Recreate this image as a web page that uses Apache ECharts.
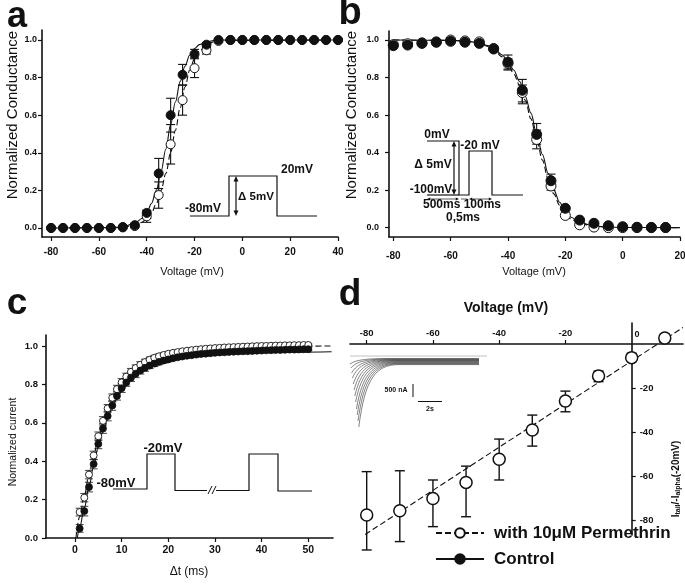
<!DOCTYPE html>
<html>
<head>
<meta charset="utf-8">
<script src="https://cdn.jsdelivr.net/npm/echarts@6/dist/echarts.min.js"></script>
<style>
  html, body { margin: 0; padding: 0; background: #fff; }
  #chart { width: 685px; height: 584px; }
</style>
</head>
<body>
<div id="chart"></div>
<script>
// ---- panel a : activation ----
const aVolt = [-80,-75,-70,-65,-60,-55,-50,-45,-40,-35,-30,-25,-20,-15,-10,-5,0,5,10,15,20,25,30,35,40];
const aCtrl = [0,0,0,0,0,0,0.005,0.015,0.08,0.29,0.60,0.815,0.925,0.975,1,1,1,1,1,1,1,1,1,1,1];
const aPerm = [0,0,0,0,0,0,0.003,0.01,0.062,0.175,0.445,0.68,0.85,0.945,0.995,1,1,1,1,1,1,1,1,1,1];
const aCtrlErr = [[-45,0.005,0.025],[-40,0.05,0.095],[-35,0.21,0.37],[-30,0.51,0.69],[-25,0.76,0.87],[-20,0.905,0.95],[-15,0.96,0.985]];
const aPermErr = [[-40,0.03,0.09],[-35,0.105,0.245],[-30,0.34,0.55],[-25,0.6,0.76],[-20,0.8,0.9],[-15,0.925,0.965]];
const aFitV = [-80,-55,-50,-45,-42,-40,-38,-36,-34,-32,-30,-28,-26,-24,-22,-20,-18,-15,-12,-10,40];
const aFitCtrl = [0,0.002,0.006,0.025,0.05,0.08,0.13,0.2,0.3,0.42,0.55,0.67,0.78,0.86,0.92,0.955,0.975,0.99,0.997,1,1];
const aFitPerm = [0,0.001,0.003,0.015,0.03,0.05,0.08,0.13,0.2,0.29,0.4,0.52,0.64,0.75,0.84,0.9,0.94,0.975,0.99,0.997,1];

// ---- panel b : inactivation ----
const bVolt = [-80,-75,-70,-65,-60,-55,-50,-45,-40,-35,-30,-25,-20,-15,-10,-5,0,5,10,15];
const bCtrl = [0.97,0.973,0.982,0.988,0.993,0.988,0.982,0.952,0.881,0.732,0.497,0.25,0.103,0.04,0.023,0.01,0.005,0.002,0.001,0.001];
const bPerm = [0.975,0.98,0.985,0.99,1.0,0.995,0.99,0.955,0.875,0.72,0.47,0.222,0.065,0.015,0.003,0,0,0,0,0];
const bCtrlErr = [[-45,0.94,0.97],[-40,0.845,0.92],[-35,0.67,0.79],[-30,0.445,0.555],[-25,0.22,0.285],[-20,0.09,0.11]];
const bPermErr = [[-40,0.84,0.9],[-35,0.66,0.76],[-30,0.42,0.52],[-25,0.2,0.25]];
const bFitV = [-80,-60,-55,-50,-47,-45,-42,-40,-38,-36,-34,-32,-30,-28,-26,-24,-22,-20,-18,-15,-10,-5,0,20];
const bFitCtrl = [1,0.998,0.995,0.985,0.97,0.955,0.92,0.885,0.84,0.78,0.7,0.61,0.5,0.39,0.29,0.2,0.135,0.085,0.055,0.028,0.009,0.003,0.001,0];
const bFitPerm = [1,0.998,0.995,0.983,0.965,0.95,0.91,0.87,0.82,0.76,0.68,0.58,0.47,0.36,0.26,0.18,0.12,0.075,0.045,0.022,0.007,0.002,0.001,0];

// ---- panel c : recovery ----
const cTime = [1,2,3,4,5,6,7,8,9,10,11,12,13,14,15,16,17,18,19,20,21,22,23,24,25,
  26,27,28,29,30,31,32,33,34,35,36,37,38,39,40,41,42,43,44,45,46,47,48,49,50];
const cCtrl = [0.05,0.14,0.265,0.385,0.49,0.57,0.635,0.69,0.74,0.78,
  0.81,0.835,0.855,0.872,0.886,0.898,0.908,0.917,0.924,0.93,
  0.936,0.941,0.945,0.949,0.952,0.955,0.958,0.96,0.962,0.964,
  0.966,0.967,0.969,0.97,0.971,0.972,0.973,0.974,0.975,0.976,
  0.977,0.978,0.979,0.979,0.98,0.981,0.981,0.982,0.983,0.983];
const cPerm = [0.135,0.21,0.33,0.43,0.53,0.61,0.675,0.73,0.775,0.81,
  0.84,0.865,0.885,0.902,0.916,0.928,0.938,0.946,0.953,0.959,
  0.964,0.968,0.972,0.975,0.978,0.981,0.983,0.985,0.987,0.989,
  0.99,0.992,0.993,0.994,0.995,0.996,0.997,0.998,0.999,1.0,
  1.0,1.001,1.002,1.002,1.003,1.003,1.004,1.004,1.005,1.005];
const cCtrlErr = [0.02,0.025,0.025,0.025,0.025,0.025,0.025,0.025,0.022,0.022,
  0.02,0.02,0.02,0.018,0.018,0.016,0.015,0.015,0.013,0.012,
  0.012,0.011,0.01,0.01,0.01,0.009,0.009,0.008,0.008,0.008,
  0.007,0.007,0.007,0.007,0.007,0.007,0.007,0.007,0.007,0.007,
  0.007,0.007,0.007,0.007,0.007,0.007,0.007,0.007,0.007,0.007];
const cPermErr = [0.02,0.022,0.022,0.022,0.022,0.022,0.02,0.02,0.02,0.02,
  0.018,0.018,0.016,0.016,0.015,0.014,0.013,0.012,0.011,0.01,
  0.01,0.009,0.009,0.008,0.008,0.008,0.007,0.007,0.007,0.007,
  0.006,0.006,0.006,0.006,0.006,0.006,0.006,0.006,0.006,0.006,
  0.006,0.006,0.006,0.006,0.006,0.006,0.006,0.006,0.006,0.006];
const cFitCtrlT = [0.5,1,2,3,4,5,6,7,8,9,10,12,14,16,18,20,25,30,40,55];
const cFitCtrl = [0,0.055,0.155,0.265,0.375,0.475,0.555,0.625,0.68,0.725,0.765,0.825,0.865,0.893,0.913,0.927,0.948,0.958,0.966,0.97];
const cFitPermT = [0.2,1,2,3,4,5,6,7,8,9,10,12,14,16,18,20,25,30,40,55];
const cFitPerm = [0,0.11,0.22,0.33,0.43,0.52,0.6,0.665,0.72,0.765,0.805,0.86,0.9,0.928,0.947,0.96,0.98,0.99,0.997,1.0];

// ---- panel d : reversal ----
const dVolt = [-80,-70,-60,-50,-40,-30,-20,-10,0,10];
const dPerm = [-77.7,-75.8,-70.2,-62.9,-52.4,-39.1,-25.9,-14.5,-6.2,2.7];
const dLow  = [-93.6,-89.8,-83,-78.5,-61.8,-46.4,-30.8,-17.1,-7.7,1];
const dHigh = [-58,-57.6,-61.8,-55.5,-43.2,-32.3,-21.4,-12.3,-4.2,4.5];
const dLineV = [-85,15.5];
const dLineI = [-91,7.5];
// inset current traces (peak / steady level, px inside inset)
const tracePeaks = [364,368,373,378,384,390,396,402,409,415,421,427];
const traceLevels = [358.5,359,359.5,360,360.5,361,361.6,362.2,362.8,363.4,364,364.6];

const permName = 'with 10\u03bcM Permethrin';
const ctrlName = 'Control';

const FF = "'Liberation Sans', Arial, Helvetica, sans-serif";
const INK = '#111';

const zip = (xs, ys) => xs.map((x, i) => [x, ys[i]]);

function axis(gi, min, max, ticks, position, fmt, size, margin, offset) {
  return {
    type: 'value', gridIndex: gi, min: min, max: max, position: position, offset: offset || 0,
    axisLine: { onZero: false, lineStyle: { color: INK, width: 1.6 } },
    axisTick: { show: true, customValues: ticks, length: 4, lineStyle: { color: INK, width: 1.2 } },
    axisLabel: { customValues: ticks, formatter: fmt, fontSize: size, fontWeight: 'bold',
      fontFamily: FF, color: INK, margin: margin },
    splitLine: { show: false }
  };
}

function fit(gi, data, dashed) {
  return {
    type: 'line', xAxisIndex: gi, yAxisIndex: gi, data: data, smooth: 0.35, smoothMonotone: 'x',
    showSymbol: false, silent: true, z: 2,
    lineStyle: { color: INK, width: 1.1, type: dashed ? [6, 3] : 'solid' }
  };
}

function errBars(gi, data, cap, width) {
  return {
    type: 'custom', xAxisIndex: gi, yAxisIndex: gi, data: data, z: 3, silent: true, clip: false,
    renderItem: function (params, api) {
      const lo = api.coord([api.value(0), api.value(1)]);
      const hi = api.coord([api.value(0), api.value(2)]);
      const st = { stroke: INK, lineWidth: width };
      return { type: 'group', children: [
        { type: 'line', shape: { x1: lo[0], y1: lo[1], x2: hi[0], y2: hi[1] }, style: st },
        { type: 'line', shape: { x1: lo[0] - cap, y1: lo[1], x2: lo[0] + cap, y2: lo[1] }, style: st },
        { type: 'line', shape: { x1: hi[0] - cap, y1: hi[1], x2: hi[0] + cap, y2: hi[1] }, style: st }
      ] };
    }
  };
}

function dots(gi, data, filled, size, bw) {
  return {
    type: 'scatter', xAxisIndex: gi, yAxisIndex: gi, data: data, symbol: 'circle', symbolSize: size,
    silent: true, z: filled ? 5 : 4,
    itemStyle: { color: filled ? INK : '#fff', borderColor: INK, borderWidth: bw, opacity: 1 }
  };
}

// ---- graphic helpers for text and the protocol insets ----
function txt(x, y, s, size, weight, align, rot) {
  return { type: 'text', x: x, y: y, rotation: rot || 0, silent: true,
    style: { text: s, fontSize: size, fontWeight: weight || 'normal', fontFamily: FF, fill: INK,
      align: align || 'center', verticalAlign: 'middle' } };
}
function pl(points, w, color) {
  return { type: 'polyline', silent: true, shape: { points: points },
    style: { stroke: color || INK, lineWidth: w || 1.2, fill: null } };
}
function head(x, y, dir, s) {
  s = s || 3.5;
  let pts;
  if (dir === 'up') pts = [[x, y], [x - s * 0.7, y + s * 1.6], [x + s * 0.7, y + s * 1.6]];
  else if (dir === 'down') pts = [[x, y], [x - s * 0.7, y - s * 1.6], [x + s * 0.7, y - s * 1.6]];
  else if (dir === 'left') pts = [[x, y], [x + s * 1.6, y - s * 0.7], [x + s * 1.6, y + s * 0.7]];
  else pts = [[x, y], [x - s * 1.6, y - s * 0.7], [x - s * 1.6, y + s * 0.7]];
  return { type: 'polygon', silent: true, shape: { points: pts }, style: { fill: INK } };
}

const graphics = [
  // panel letters
  txt(17, 17, 'a', 36, 'bold'), txt(350, 14, 'b', 38, 'bold'),
  txt(17, 304, 'c', 37, 'bold'), txt(350, 295, 'd', 37, 'bold'),
  // axis titles
  txt(13, 115, 'Normalized Conductance', 15, 'normal', 'center', Math.PI / 2),
  txt(192, 272, 'Voltage (mV)', 11),
  txt(352, 115, 'Normalized Conductance', 15, 'normal', 'center', Math.PI / 2),
  txt(534, 272, 'Voltage (mV)', 11),
  txt(13, 442, 'Normalized current', 10.5, 'normal', 'center', Math.PI / 2),
  txt(189, 572, '\u0394t (ms)', 12),
  txt(506, 308, 'Voltage (mV)', 14, 'bold'),
  txt(637, 335, '0', 9, 'bold'),
  { type: 'text', x: 676, y: 479, rotation: Math.PI / 2, silent: true,
    style: { text: '{b|I}{s|tail}{b|/-I}{s|alpha}{b|(-20mV)}', fill: INK, align: 'center', verticalAlign: 'middle',
      rich: { b: { fontSize: 10, fontWeight: 'bold', fontFamily: FF, fill: INK },
              s: { fontSize: 7, fontWeight: 'bold', fontFamily: FF, fill: INK, padding: [5, 0, 0, 0] } } } },

  // panel a protocol
  pl([[190, 216], [229, 216], [229, 176], [277, 176], [277, 216], [317, 216]], 1.2),
  pl([[236, 180], [236, 212]], 1.2), head(236, 176, 'up'), head(236, 216, 'down'),
  txt(256, 197, '\u0394 5mV', 11.5, 'bold'),
  txt(297, 170, '20mV', 12, 'bold'),
  txt(203, 209, '-80mV', 12, 'bold'),

  // panel b protocol
  pl([[427, 141], [459, 141], [459, 195], [469, 195], [469, 151], [492, 151], [492, 195], [523, 195]], 1.2),
  pl([[427, 195], [459, 195]], 1.2),
  pl([[454, 145], [454, 191]], 1.2), head(454, 141, 'up'), head(454, 195, 'down'),
  pl([[429, 199], [457, 199]], 0.7), head(427, 199, 'left', 2), head(459, 199, 'right', 2),
  pl([[461, 199], [467, 199]], 0.7),
  pl([[471, 199], [490, 199]], 0.7), head(469, 199, 'left', 2), head(492, 199, 'right', 2),
  txt(437, 135, '0mV', 12, 'bold'),
  txt(480, 146, '-20 mV', 12, 'bold'),
  txt(433, 165, '\u0394 5mV', 12, 'bold'),
  txt(431, 190, '-100mV', 12, 'bold'),
  txt(462, 205, '500ms 100ms', 12, 'bold'),
  txt(463, 218, '0,5ms', 12, 'bold'),

  // panel c protocol
  pl([[113, 489], [147, 489], [147, 454], [175, 454], [175, 490.5], [207, 490.5]], 1.2),
  pl([[216, 490.5], [249, 490.5], [249, 454], [278, 454], [278, 491], [312, 491]], 1.2),
  pl([[208, 494], [212, 486]], 1), pl([[212, 494], [216, 486]], 1),
  txt(116, 483, '-80mV', 13, 'bold'),
  txt(163, 448, '-20mV', 13, 'bold'),

  // panel d current trace inset
  pl([[350, 356], [487, 356]], 0.6, '#999'),
  { type: 'text', x: 396, y: 390, silent: true,
    style: { text: '500 nA', fontSize: 7, fontWeight: 'bold', fontFamily: FF, fill: INK, align: 'center', verticalAlign: 'middle' } },
  pl([[413, 384], [413, 397]], 1),
  pl([[418, 401.5], [442, 401.5]], 1),
  { type: 'text', x: 430, y: 409, silent: true,
    style: { text: '2s', fontSize: 7, fontWeight: 'bold', fontFamily: FF, fill: INK, align: 'center', verticalAlign: 'middle' } }
];
tracePeaks.forEach(function (p, i) {
  const lv = traceLevels[i];
  const xs = 350 + i * 0.8;
  graphics.push({ type: 'bezierCurve', silent: true,
    shape: { x1: xs, y1: p, cpx1: xs + 6, cpy1: lv + (p - lv) * 0.25, cpx2: xs + 16, cpy2: lv, x2: xs + 40, y2: lv },
    style: { stroke: '#333', lineWidth: 0.6, fill: null } });
  graphics.push({ type: 'line', silent: true,
    shape: { x1: xs + 40, y1: lv, x2: 479, y2: lv },
    style: { stroke: '#333', lineWidth: 0.6 } });
});

const chart = echarts.init(document.getElementById('chart'), null, { renderer: 'canvas' });
const fmt1 = v => v.toFixed(1);
const fmt0 = v => String(v);

chart.setOption({
  animation: false,
  backgroundColor: '#fff',
  grid: [
    { left: 42, top: 30, width: 296, height: 207, outerBoundsMode: 'none' },
    { left: 389, top: 31, width: 291, height: 206, outerBoundsMode: 'none' },
    { left: 46, top: 335, width: 287, height: 203, outerBoundsMode: 'none' },
    { left: 350, top: 323, width: 333, height: 212, outerBoundsMode: 'none' }
  ],
  xAxis: [
    axis(0, -83.8, 40, [-80, -60, -40, -20, 0, 20, 40], 'bottom', fmt0, 10, 10),
    axis(1, -81.5, 20, [-80, -60, -40, -20, 0, 20], 'bottom', fmt0, 10, 14),
    axis(2, -6.21, 55.3, [0, 10, 20, 30, 40, 50], 'bottom', fmt0, 10.5, 7),
    axis(3, -85.04, 15.5, [-80, -60, -40, -20], 'top', fmt0, 9.5, 6, -21)
  ],
  yAxis: [
    axis(0, -0.048, 1.053, [0, 0.2, 0.4, 0.6, 0.8, 1.0], 'left', fmt1, 9, 5),
    axis(1, -0.05, 1.048, [0, 0.2, 0.4, 0.6, 0.8, 1.0], 'left', fmt1, 9, 10),
    axis(2, 0, 1.057, [0, 0.2, 0.4, 0.6, 0.8, 1.0], 'left', fmt1, 9.5, 8),
    axis(3, -86.8, 9.55, [-20, -40, -60, -80], 'right', fmt0, 9.5, 8, -51.3)
  ],
  legend: {
    orient: 'vertical', left: 435, top: 523, padding: 0, itemWidth: 48, itemHeight: 12, itemGap: 6,
    selectedMode: false, data: [permName, ctrlName],
    textStyle: { fontSize: 17, fontWeight: 'bold', fontFamily: FF, color: INK, padding: [0, 0, 0, 5], lineHeight: 20 }
  },
  graphic: graphics,
  series: [
    // a
    fit(0, zip(aFitV, aFitCtrl), false),
    fit(0, zip(aFitV, aFitPerm), true),
    errBars(0, aPermErr, 4.5, 1.1),
    errBars(0, aCtrlErr, 4.5, 1.1),
    dots(0, zip(aVolt, aPerm), false, 9, 1),
    dots(0, zip(aVolt, aCtrl), true, 9, 1),
    // b
    fit(1, zip(bFitV, bFitCtrl), false),
    fit(1, zip(bFitV, bFitPerm), true),
    errBars(1, bPermErr, 4.5, 1.1),
    errBars(1, bCtrlErr, 4.5, 1.1),
    dots(1, zip(bVolt, bPerm), false, 10, 1),
    dots(1, zip(bVolt, bCtrl), true, 10, 1),
    // c
    fit(2, zip(cFitCtrlT, cFitCtrl), false),
    fit(2, zip(cFitPermT, cFitPerm), true),
    errBars(2, cTime.map((t, i) => [t, cCtrl[i] - cCtrlErr[i], cCtrl[i] + cCtrlErr[i]]), 4, 0.8),
    errBars(2, cTime.map((t, i) => [t, cPerm[i] - cPermErr[i], cPerm[i] + cPermErr[i]]), 4, 0.8),
    dots(2, zip(cTime, cCtrl), true, 7, 0.8),
    dots(2, zip(cTime, cPerm), false, 7, 0.9),
    // d
    fit(3, zip(dLineV, dLineI), true),
    errBars(3, dVolt.map((v, i) => [v, dLow[i], dHigh[i]]), 5, 1.4),
    dots(3, zip(dVolt, dPerm), false, 12, 1.5),
    // legend entries
    { type: 'line', name: permName, xAxisIndex: 3, yAxisIndex: 3, data: [], symbol: 'circle', symbolSize: 12,
      itemStyle: { color: '#fff', borderColor: INK, borderWidth: 1.5 }, lineStyle: { color: INK, width: 1.5, type: [6, 3] } },
    { type: 'line', name: ctrlName, xAxisIndex: 3, yAxisIndex: 3, data: [], symbol: 'circle', symbolSize: 12,
      itemStyle: { color: INK, borderColor: INK, borderWidth: 1.5 }, lineStyle: { color: INK, width: 1.5 } }
  ]
});
</script>
</body>
</html>
